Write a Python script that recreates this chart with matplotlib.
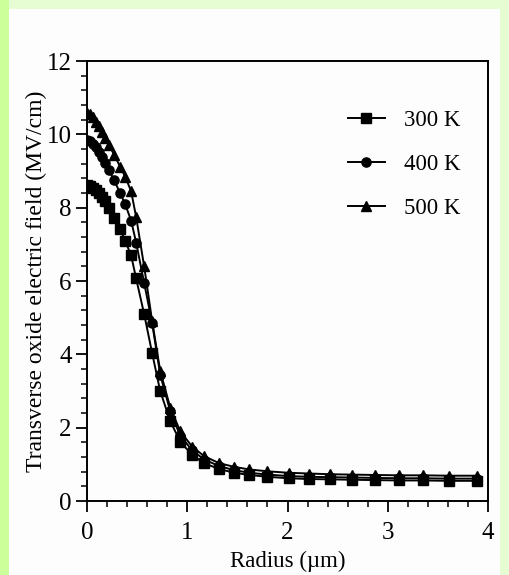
import numpy as np
import matplotlib
matplotlib.use('Agg')
import matplotlib.pyplot as plt
from matplotlib.patches import Rectangle

plt.rcParams['font.family'] = ['Liberation Serif', 'DejaVu Serif']

# radius grid (um), shared by all three temperatures
radius = [0.00, 0.03, 0.06, 0.09, 0.12, 0.15, 0.18, 0.22, 0.27, 0.33, 0.38,
          0.44, 0.49, 0.57, 0.65, 0.73, 0.83, 0.93, 1.05, 1.17, 1.32, 1.47,
          1.62, 1.80, 2.01, 2.21, 2.42, 2.64, 2.87, 3.11, 3.35, 3.61, 3.89]

field_300 = [8.62, 8.60, 8.55, 8.48, 8.40, 8.30, 8.18, 7.98, 7.71, 7.42, 7.10,
             6.70, 6.07, 5.10, 4.03, 3.00, 2.18, 1.62, 1.25, 1.03, 0.87, 0.77,
             0.71, 0.66, 0.62, 0.60, 0.59, 0.58, 0.57, 0.56, 0.56, 0.55, 0.55]

field_400 = [9.85, 9.82, 9.75, 9.65, 9.52, 9.38, 9.22, 9.02, 8.75, 8.40, 8.10,
             7.65, 7.05, 5.95, 4.85, 3.45, 2.45, 1.78, 1.38, 1.13, 0.95, 0.84,
             0.77, 0.72, 0.68, 0.66, 0.65, 0.64, 0.63, 0.62, 0.62, 0.61, 0.61]

field_500 = [10.58, 10.55, 10.46, 10.35, 10.22, 10.07, 9.90, 9.70, 9.45, 9.12, 8.85,
             8.45, 7.75, 6.40, 4.90, 3.55, 2.55, 1.90, 1.48, 1.22, 1.03, 0.93,
             0.86, 0.81, 0.77, 0.75, 0.73, 0.72, 0.71, 0.70, 0.70, 0.69, 0.69]

labels = ['300 K', '400 K', '500 K']
markers = ['s', 'o', '^']

fig = plt.figure(figsize=(5.09, 5.75), dpi=100)
fig.patch.set_facecolor('#e6fcd2')
# scanned page area and the brighter strip on the left
fig.patches.append(Rectangle((9 / 509, 0), 491 / 509, 566 / 575, transform=fig.transFigure,
                             facecolor='#fdfdfd', edgecolor='none', zorder=-10))
fig.patches.append(Rectangle((0, 0), 9 / 509, 1, transform=fig.transFigure,
                             facecolor='#ccff99', edgecolor='none', zorder=-10))

ax = fig.add_axes([87 / 509, 1 - 501 / 575, 401 / 509, 440 / 575])
ax.set_facecolor('none')

for y, lab, m in zip([field_300, field_400, field_500], labels, markers):
    ax.plot(radius, y, color='black', lw=1.4, marker=m, ms=7.2 if m == '^' else 6.6,
            markerfacecolor='black', markeredgecolor='black', label=lab)

ax.set_xlim(0, 4)
ax.set_ylim(0, 12)
ax.set_xticks(np.arange(0, 4.01, 1))
ax.set_xticks(np.arange(0, 4.01, 0.2), minor=True)
ax.set_yticks(np.arange(0, 12.01, 2))
ax.set_yticks(np.arange(0, 12.01, 0.4), minor=True)

ax.tick_params(which='major', direction='out', length=8, width=1.3, labelsize=18, pad=3)
ax.tick_params(which='minor', direction='out', length=4.3, width=1.1)
ax.tick_params(axis='x', which='major', pad=7)
for s in ax.spines.values():
    s.set_linewidth(1.4)

ax.set_xlabel('Radius (µm)', fontsize=16.5, labelpad=5)
ax.set_ylabel('Transverse oxide electric field (MV/cm)', fontsize=17, labelpad=0)

leg = ax.legend(loc='upper left', bbox_to_anchor=(0.628, 0.91), frameon=False,
                fontsize=16.5, handlelength=1.6, handletextpad=0.83, labelspacing=1.0,
                borderaxespad=0, markerscale=1.0)

fig.savefig('out.png', dpi=100, facecolor=fig.get_facecolor())
